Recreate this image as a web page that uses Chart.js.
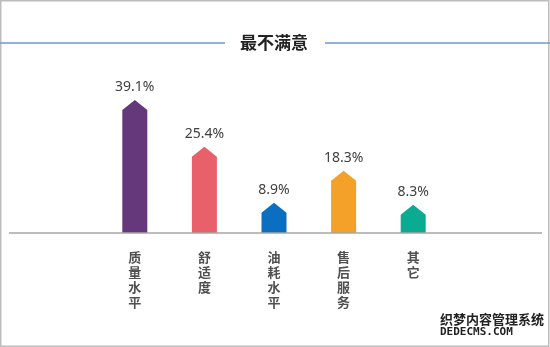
<!DOCTYPE html>
<html>
<head>
<meta charset="utf-8">
<script src="https://cdn.jsdelivr.net/npm/chart.js@4/dist/chart.umd.min.js"></script>
<style>
  html, body { margin: 0; padding: 0; background: #fff; }
  #wrap { width: 550px; height: 347px; position: relative; }
</style>
</head>
<body>
<div id="wrap"><canvas id="c"></canvas></div>
<script>
// data
const categories = ['质量水平', '舒适度', '油耗水平', '售后服务', '其它'];
const values = [39.1, 25.4, 8.9, 18.3, 8.3];
const barColors = ['#64387a', '#e8606a', '#0b6fc1', '#f4a12a', '#0aab90'];
const chartTitle = '最不满意';

// draws the frame, title lines, base line, house-shaped bars and value labels
const decor = {
  id: 'decor',
  beforeDraw(chart) {
    const ctx = chart.ctx;
    ctx.save();
    ctx.fillStyle = '#fff';
    ctx.fillRect(0, 0, chart.width, chart.height);
    ctx.strokeStyle = '#bdbdbd';
    ctx.lineWidth = 1.5;
    ctx.strokeRect(0.75, 0.75, chart.width - 2, chart.height - 1.5);
    // lines either side of title
    ctx.strokeStyle = '#6b9bd2';
    ctx.lineWidth = 1.5;
    ctx.beginPath();
    ctx.moveTo(0, 43); ctx.lineTo(225, 43);
    ctx.moveTo(325, 43); ctx.lineTo(550, 43);
    ctx.stroke();
    ctx.restore();
  },
  afterDatasetsDraw(chart) {
    const ctx = chart.ctx;
    const meta = chart.getDatasetMeta(0);
    const y0 = chart.scales.y.getPixelForValue(0);
    ctx.save();
    meta.data.forEach((bar, i) => {
      const half = bar.width / 2;
      const peak = 10;
      ctx.fillStyle = barColors[i];
      ctx.beginPath();
      ctx.moveTo(bar.x - half, bar.base);
      ctx.lineTo(bar.x - half, bar.y + peak);
      ctx.lineTo(bar.x, bar.y);
      ctx.lineTo(bar.x + half, bar.y + peak);
      ctx.lineTo(bar.x + half, bar.base);
      ctx.closePath();
      ctx.fill();

      ctx.fillStyle = '#404040';
      ctx.font = '14px "Noto Sans", sans-serif';
      ctx.textAlign = 'center';
      ctx.textBaseline = 'middle';
      ctx.fillText(values[i] + '%', bar.x, bar.y - 13);
    });
    // base line
    ctx.strokeStyle = '#a6a6a6';
    ctx.lineWidth = 1.5;
    ctx.beginPath();
    ctx.moveTo(9, y0);
    ctx.lineTo(542, y0);
    ctx.stroke();

    // watermark
    ctx.fillStyle = '#222';
    ctx.textAlign = 'left';
    ctx.textBaseline = 'middle';
    ctx.font = 'bold 13px "Noto Sans CJK SC", sans-serif';
    ctx.fillText('织梦内容管理系统', 440, 319);
    ctx.font = 'bold 11px "DejaVu Sans Mono", monospace';
    ctx.fillText('DEDECMS.COM', 440, 332);
    ctx.restore();
  }
};

new Chart(document.getElementById('c'), {
  type: 'bar',
  data: {
    labels: categories,
    datasets: [{
      data: values,
      backgroundColor: 'rgba(0,0,0,0)',
      barThickness: 25
    }]
  },
  options: {
    responsive: true,
    maintainAspectRatio: false,
    animation: false,
    layout: { padding: { left: 100, right: 102, top: 0, bottom: 0 } },
    plugins: {
      legend: { display: false },
      tooltip: { enabled: false },
      title: {
        display: true,
        text: chartTitle,
        color: '#222',
        font: { family: '"Noto Sans CJK SC", sans-serif', size: 17, weight: 'bold', lineHeight: 1.2 },
        padding: { top: 32, bottom: 27.6 }
      }
    },
    scales: {
      x: {
        grid: { display: false },
        border: { display: false },
        ticks: {
          color: '#505050',
          padding: 9,
          font: { family: '"Noto Sans CJK SC", sans-serif', size: 13, weight: 'bold', lineHeight: 1.15 },
          callback: function (v, i) { return categories[i].split(''); }
        },
        afterFit: (scale) => { scale.height = 114; }
      },
      y: {
        display: false,
        min: 0,
        max: 45
      }
    }
  },
  plugins: [decor]
});
</script>
</body>
</html>
